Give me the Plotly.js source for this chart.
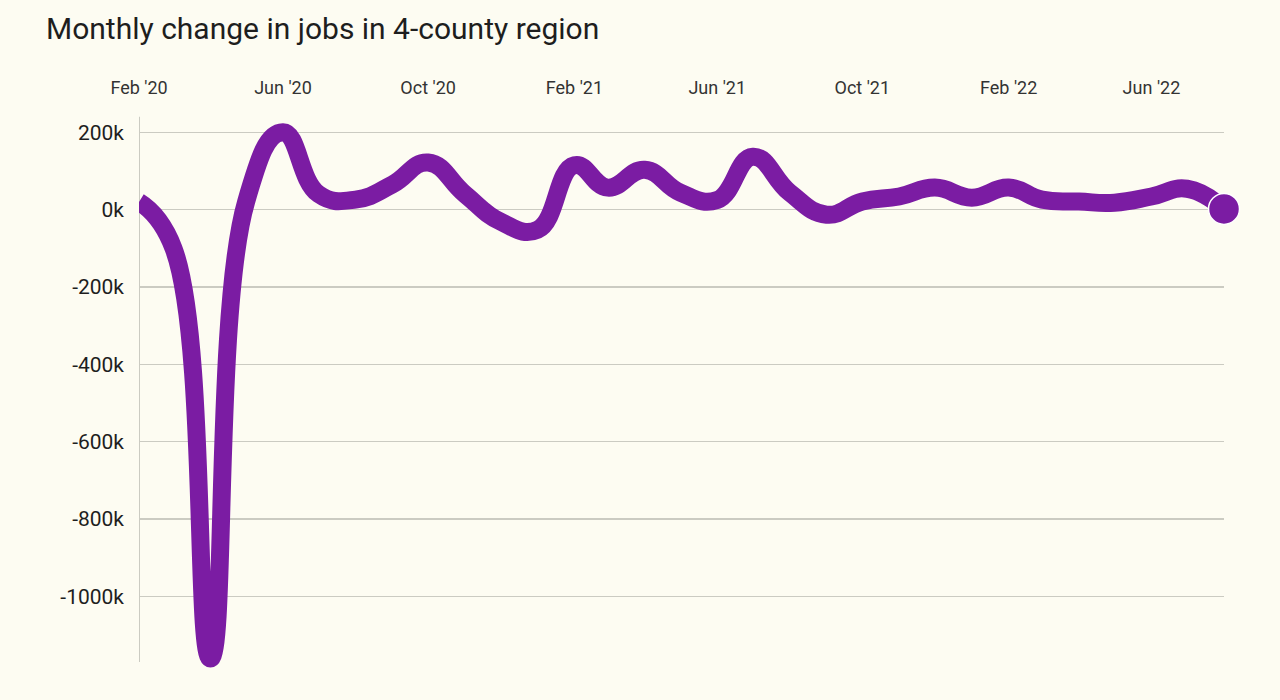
<!DOCTYPE html>
<html>
<head>
<meta charset="utf-8">
<script src="https://cdn.plot.ly/plotly-3.0.1.min.js"></script>
<style>
  html, body { margin: 0; padding: 0; background: #fdfcf2; }
  #chart { width: 1280px; height: 700px; }
</style>
</head>
<body>
<div id="chart"></div>
<script>
// Months (first of month) and monthly change in jobs, in thousands
const months = [
  '2020-02-01','2020-03-01','2020-04-01','2020-05-01','2020-06-01','2020-07-01',
  '2020-08-01','2020-09-01','2020-10-01','2020-11-01','2020-12-01','2021-01-01',
  '2021-02-01','2021-03-01','2021-04-01','2021-05-01','2021-06-01','2021-07-01',
  '2021-08-01','2021-09-01','2021-10-01','2021-11-01','2021-12-01','2022-01-01',
  '2022-02-01','2022-03-01','2022-04-01','2022-05-01','2022-06-01','2022-07-01',
  '2022-08-01'
];
const jobChangeK = [
  20, -100, -1160, 20, 200, 40,
  26, 65, 122, 40, -31, -52,
  115, 57, 103, 44, 25, 137,
  44, -13, 21, 34, 57, 31,
  57, 26, 21, 18, 34, 54,
  2
];

// Axis ticks
const xTickVals = ['2020-02-01','2020-06-01','2020-10-01','2021-02-01','2021-06-01','2021-10-01','2022-02-01','2022-06-01'];
const xTickText = ["Feb '20","Jun '20","Oct '20","Feb '21","Jun '21","Oct '21","Feb '22","Jun '22"];
const yTickVals = [200, 0, -200, -400, -600, -800, -1000];
const yTickText = ['200k', '0k', '-200k', '-400k', '-600k', '-800k', '-1000k'];

const purple = '#7b1ca3';
const bg = '#fdfcf2';
const grid = '#cbcbc2';

const lineTrace = {
  x: months,
  y: jobChangeK,
  type: 'scatter',
  mode: 'lines',
  line: { color: purple, width: 18, shape: 'spline', smoothing: 1.3 },
  hoverinfo: 'x+y'
};
const endTrace = {
  x: [months[months.length - 1]],
  y: [jobChangeK[jobChangeK.length - 1]],
  type: 'scatter',
  mode: 'markers',
  marker: { color: purple, size: 31, line: { color: '#ffffff', width: 1.5 } },
  cliponaxis: false,
  hoverinfo: 'x+y'
};

const layout = {
  width: 1280,
  height: 700,
  paper_bgcolor: bg,
  plot_bgcolor: bg,
  showlegend: false,
  margin: { l: 139, r: 56, t: 82, b: 30 },
  title: {
    text: 'Monthly change in jobs in 4-county region',
    x: 46 / 1280,
    xanchor: 'left',
    xref: 'container',
    y: 1 - 28 / 700,
    yanchor: 'middle',
    yref: 'container',
    font: { family: 'Roboto, sans-serif', size: 30, color: '#1e1e1e' }
  },
  xaxis: {
    type: 'date',
    range: ['2020-02-01', '2022-08-01'],
    tickvals: xTickVals,
    ticktext: xTickText,
    side: 'top',
    anchor: 'free',
    position: 0.973,
    showgrid: false,
    zeroline: false,
    showline: false,
    ticks: '',
    layer: 'below traces',
    tickfont: { family: 'Roboto, sans-serif', size: 18, color: '#333333' },
    fixedrange: true
  },
  yaxis: {
    range: [-1190, 330],
    tickvals: yTickVals,
    ticktext: yTickText,
    showgrid: true,
    gridcolor: grid,
    gridwidth: 1.3,
    zeroline: false,
    showline: false,
    ticks: '',
    ticklabelstandoff: 14,
    layer: 'below traces',
    tickfont: { family: 'Roboto, sans-serif', size: 21, color: '#1e1e1e' },
    fixedrange: true
  },
  shapes: [{
    type: 'line',
    xref: 'x', yref: 'y',
    x0: months[0], x1: months[0],
    y0: -1169, y1: 240,
    line: { color: grid, width: 2 },
    layer: 'below'
  }]
};

Plotly.newPlot('chart', [lineTrace, endTrace], layout, { displayModeBar: false, staticPlot: true });
</script>
</body>
</html>
